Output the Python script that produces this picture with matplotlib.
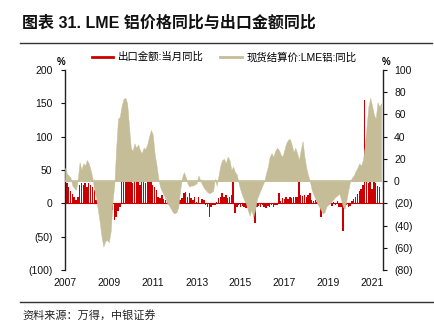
import numpy as np
import matplotlib
matplotlib.use('Agg')
import matplotlib.pyplot as plt
from matplotlib.lines import Line2D
from matplotlib.ticker import FuncFormatter, FixedLocator

plt.rcParams['font.family'] = ['Liberation Sans', 'Noto Sans CJK SC', 'DejaVu Sans']

# ---- data (monthly, starting Jan 2007) ----
start_year = 2007
series_export_name = '出口金额:当月同比'
series_lme_name = '现货结算价:LME铝:同比'

export_yoy = [38, 30, 24, 19, 14, 9, 5, 10, 28, 30,
              27, 30, 25, 30, 28, 25, 20, 5, 3, 2,
              0, -3, -8, -10, -12, -15, -10, -25, -20, -12,
              -5, 34, 36, 34, 33, 35, 34, 30, 36, 34,
              33, 28, 34, 35, 30, 34, 33, 36, 28, 25,
              20, 10, 8, 12, 6, 5, 8, 4, 6, 3,
              5, 4, 3, 5, 8, 15, 17, 10, 15, 8,
              5, 10, 2, 10, 1, 7, 5, -2, -5, -20,
              -5, -3, -2, 2, 8, 10, 15, 10, 12, 8,
              10, 12, 32, -15, -5, -3, -6, -4, -5, -7,
              -4, -6, -5, -6, -30, -5, -4, -6, -3, -5,
              -7, -4, -5, -3, -6, -2, -3, 15, 4, 8,
              6, 9, 7, 10, 8, 9, 10, 9, 32, 12,
              11, 12, 10, 13, 15, 5, 3, 5, 2, 4,
              -20, 3, -3, 4, -2, 3, -4, 2, -3, 4,
              -5, -5, -42, -5, -3, -6, -4, 3, 6, 10,
              14, 18, 22, 27, 155, 35, 30, 35, 22, 35,
              30, 26, 25]

lme_yoy = [12, 7, 5, 3, -4, -6, -8, 2, 17, 10,
           16, 14, 19, 16, 10, 3, -8, -15, -26, -37,
           -50, -59, -54, -53, -55, -45, -18, -3, 30, 56,
           58, 68, 74, 75, 70, 50, 30, 27, 34, 30,
           33, 28, 25, 30, 29, 33, 40, 46, 42, 25,
           15, 3, -5, -9, -12, -16, -20, -22, -25, -28,
           -29, -28, -23, -8, 3, 8, 4, -2, -5, -4,
           -4, -3, -2, 5, 1, -3, -6, -8, -10, -11,
           -10, -9, 2, -4, 5, 14, 19, 20, 16, 22,
           19, 10, 13, 8, 6, -2, -8, -13, -17, -20,
           -26, -31, -26, -32, -26, -16, -12, -8, -4, 0,
           7, 13, 22, 25, 22, 27, 30, 28, 24, 22,
           28, 34, 37, 38, 33, 26, 30, 25, 19, 28,
           36, 22, 12, 5, 0, -8, -12, -16, -20, -23,
           -26, -29, -28, -23, -21, -20, -18, -16, -14, -13,
           -11, -16, -23, -25, -17, -8, 0, 3, 5, 9,
           12, 16, 14, 19, 31, 49, 67, 75, 68, 60,
           56, 71, 67, 70]

year_ticks = [2007, 2009, 2011, 2013, 2015, 2017, 2019, 2021]
left_ticks = [-100, -50, 0, 50, 100, 150, 200]
right_ticks = [-80, -60, -40, -20, 0, 20, 40, 60, 80, 100]

RED = '#CC0000'
TAN = '#C4BD97'

x_exp = start_year + np.arange(len(export_yoy)) / 12.0
x_lme = start_year + np.arange(len(lme_yoy)) / 12.0

fig = plt.figure(figsize=(4.34, 3.31), dpi=100)
W, H = 434, 331
ax = fig.add_axes([65 / W, 1 - 270 / H, 318 / W, 200 / H])
ax2 = ax.twinx()

ax.bar(x_exp, export_yoy, width=0.8 / 12, color=RED, linewidth=0, zorder=2)
ax.axhline(0, color=RED, lw=0.8, zorder=1)
ax2.fill_between(x_lme, 0, lme_yoy, color=TAN, linewidth=0.3, edgecolor=TAN)
ax2.plot([x_lme[0], x_lme[-1]], [0, 0], color=TAN, lw=1.2)

ax.set_xlim(2007, 2007 + 174 / 12)
ax.set_ylim(-100, 200)
ax2.set_ylim(-80, 100)

fmt = FuncFormatter(lambda v, p: f"({abs(int(v))})" if v < 0 else f"{int(v)}")
ax.yaxis.set_major_locator(FixedLocator(left_ticks))
ax2.yaxis.set_major_locator(FixedLocator(right_ticks))
ax.yaxis.set_major_formatter(fmt)
ax2.yaxis.set_major_formatter(fmt)
ax.set_xticks(year_ticks)
ax.set_xticklabels([str(y) for y in year_ticks])

for a in (ax, ax2):
    for s in ('top', 'bottom'):
        a.spines[s].set_visible(False)
ax.spines['right'].set_visible(False)
ax2.spines['left'].set_visible(False)
ax.spines['left'].set_color('#222222')
ax2.spines['right'].set_color('#222222')
ax.spines['left'].set_linewidth(1.0)
ax2.spines['right'].set_linewidth(1.0)

ax.tick_params(axis='y', direction='out', length=3, width=0.8, pad=6, labelsize=7.5, colors='#111111')
ax2.tick_params(axis='y', direction='out', length=3, width=0.8, pad=5, labelsize=7.5, colors='#111111')
ax.tick_params(axis='x', length=0, pad=6, labelsize=7.5, colors='#111111')

# percent units
fig.text(61 / W, 1 - 62 / H, '%', fontsize=7, fontweight='bold', ha='center', va='center')
fig.text(386 / W, 1 - 62 / H, '%', fontsize=7, fontweight='bold', ha='center', va='center')

# legend
handles = [Line2D([], [], color=RED, lw=2), Line2D([], [], color=TAN, lw=2)]
fig.legend(handles, [series_export_name, series_lme_name], loc='center',
           bbox_to_anchor=(224 / W, 1 - 57 / H), ncol=2, frameon=False,
           fontsize=7.5, handlelength=2.1, handletextpad=0.4, columnspacing=1.6)

# title and rules
fig.text(22 / W, 1 - 23 / H, '图表 31. LME 铝价格同比与出口金额同比', fontsize=11.5,
         fontweight='bold', ha='left', va='center', color='#111111')
fig.add_artist(Line2D([20 / W, 432 / W], [1 - 43 / H] * 2, color='#333333', lw=1.0))
fig.add_artist(Line2D([20 / W, 1.0], [1 - 302 / H] * 2, color='#333333', lw=1.0))
fig.text(22 / W, 1 - 315 / H, '资料来源：万得，中银证券', fontsize=8, style='italic',
         ha='left', va='center', color='#222222')

fig.savefig('out.png', dpi=100)
